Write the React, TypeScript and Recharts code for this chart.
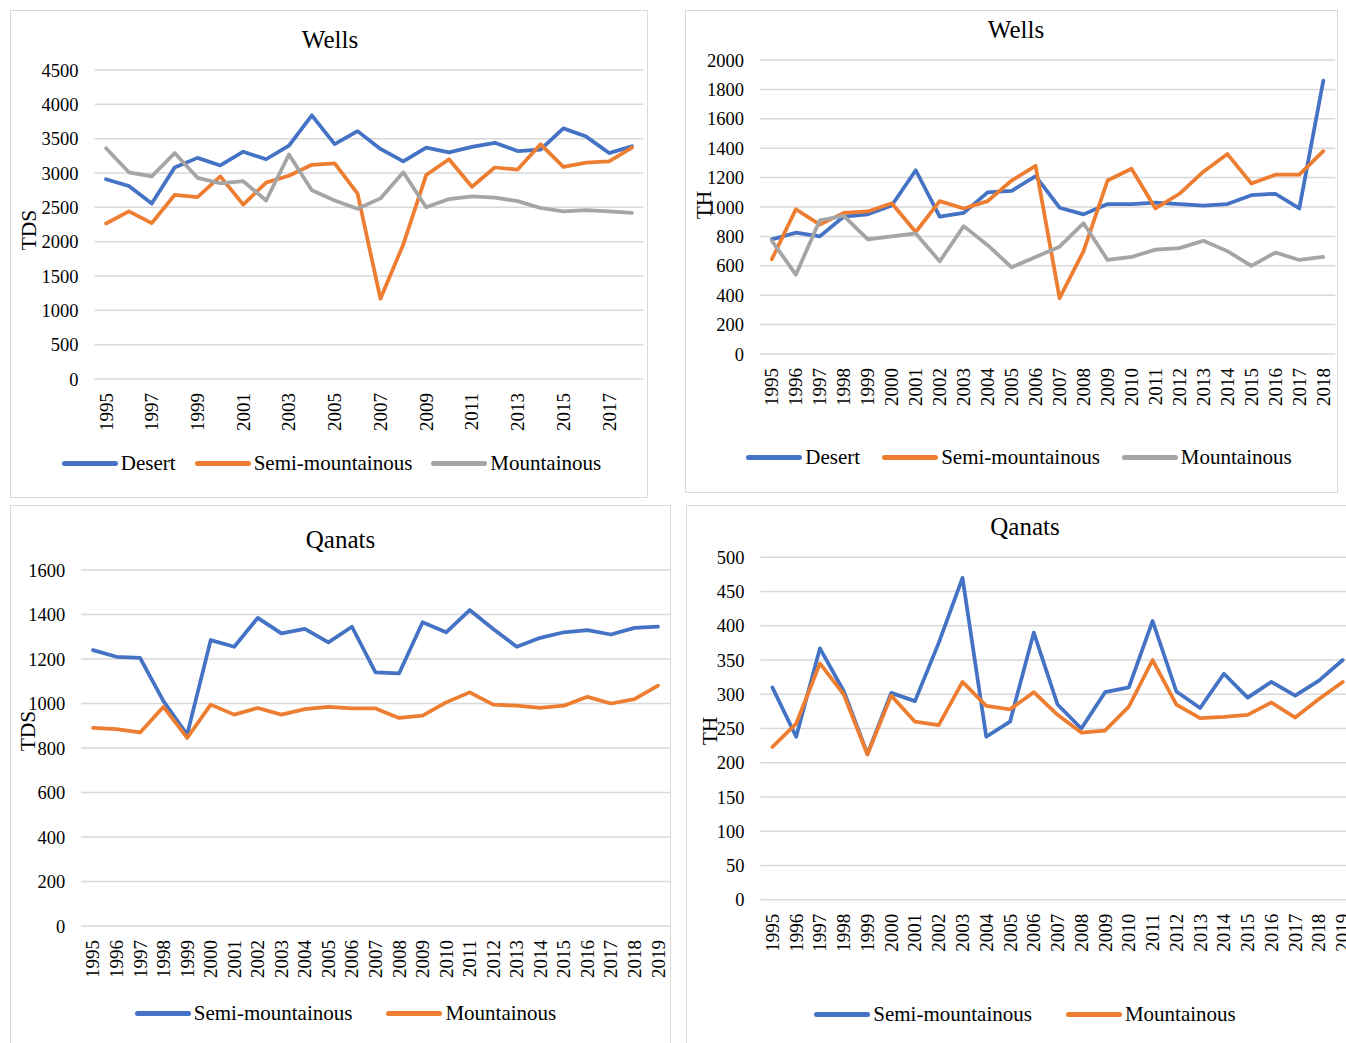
import React from 'react';
import { LineChart, Line, XAxis, YAxis, CartesianGrid, Legend } from 'recharts';

const FONT = '"Liberation Serif", "Times New Roman", serif';
const BLUE = '#4472C4';
const ORANGE = '#ED7D31';
const GRAY = '#A5A5A5';

// categories
const wellYears = ['1995', '1996', '1997', '1998', '1999', '2000', '2001', '2002', '2003', '2004', '2005', '2006',
  '2007', '2008', '2009', '2010', '2011', '2012', '2013', '2014', '2015', '2016', '2017', '2018'];
const qanatYears = ['1995', '1996', '1997', '1998', '1999', '2000', '2001', '2002', '2003', '2004', '2005', '2006',
  '2007', '2008', '2009', '2010', '2011', '2012', '2013', '2014', '2015', '2016', '2017', '2018', '2019'];

// Wells - TDS
const wellTdsDesert = [2910, 2810, 2555, 3080, 3220, 3110, 3310, 3200, 3400, 3840, 3420, 3610,
  3350, 3170, 3370, 3300, 3380, 3440, 3320, 3340, 3650, 3530, 3290, 3390];
const wellTdsSemi = [2265, 2440, 2270, 2680, 2650, 2950, 2540, 2860, 2960, 3120, 3140, 2700,
  1170, 1960, 2970, 3200, 2800, 3080, 3050, 3420, 3090, 3150, 3170, 3370];
const wellTdsMount = [3360, 3010, 2950, 3290, 2930, 2850, 2880, 2600, 3270, 2750, 2600, 2480,
  2630, 3010, 2500, 2620, 2660, 2640, 2590, 2490, 2440, 2460, 2440, 2420];

// Wells - TH
const wellThDesert = [780, 825, 800, 935, 950, 1010, 1250, 935, 960, 1100, 1110, 1210,
  995, 950, 1020, 1020, 1030, 1020, 1010, 1020, 1080, 1090, 990, 1860];
const wellThSemi = [645, 985, 880, 960, 970, 1025, 830, 1040, 990, 1040, 1180, 1280,
  380, 700, 1180, 1260, 990, 1090, 1240, 1360, 1160, 1220, 1220, 1380];
const wellThMount = [770, 540, 910, 940, 780, 800, 820, 630, 870, 740, 590, 660,
  730, 890, 640, 660, 710, 720, 770, 700, 600, 690, 640, 660];

// Qanats - TDS
const qanatTdsSemi = [1240, 1210, 1205, 1010, 860, 1285, 1255, 1385, 1315, 1335, 1275, 1345,
  1140, 1135, 1365, 1320, 1420, 1335, 1255, 1295, 1320, 1330, 1310, 1340, 1345];
const qanatTdsMount = [890, 885, 870, 985, 845, 995, 950, 980, 950, 975, 985, 978,
  978, 935, 945, 1005, 1050, 995, 990, 980, 990, 1030, 1000, 1020, 1080];

// Qanats - TH
const qanatThSemi = [310, 238, 367, 305, 213, 302, 290, 375, 470, 238, 260, 390,
  285, 250, 303, 310, 407, 304, 280, 330, 295, 318, 298, 320, 350];
const qanatThMount = [223, 257, 345, 300, 212, 298, 260, 255, 318, 283, 278, 303,
  270, 244, 247, 282, 350, 285, 265, 267, 270, 288, 266, 293, 318];

// y tick labels
const wellTdsTicks = [0, 500, 1000, 1500, 2000, 2500, 3000, 3500, 4000, 4500];
const wellThTicks = [0, 200, 400, 600, 800, 1000, 1200, 1400, 1600, 1800, 2000];
const qanatTdsTicks = [0, 200, 400, 600, 800, 1000, 1200, 1400, 1600];
const qanatThTicks = [0, 50, 100, 150, 200, 250, 300, 350, 400, 450, 500];

type Series = { name: string; values: number[]; color: string };
type Box = { left: number; top: number; width: number; height: number };
type Plot = { left: number; top: number; right: number; bottom: number };

interface PanelProps {
  title: string;
  yTitle: string;
  years: string[];
  series: Series[];
  yTicks: number[];
  box: Box;
  plot: Plot;
  titleAt: [number, number];
  yTitleAt: [number, number];
  legendAt: [number, number];
  legendGap: number;
  xInterval: number;
}

const YearTick = (props: any) => {
  const { x, y, payload } = props;
  return (
    <text
      x={x}
      y={y}
      transform={`rotate(-90 ${x} ${y})`}
      textAnchor="end"
      dominantBaseline="central"
      fontSize={19}
      fontFamily={FONT}
      fill="#000"
    >
      {payload.value}
    </text>
  );
};

const RotatedTitle = (props: any) => {
  const { tx, ty, caption } = props;
  return (
    <text
      x={tx}
      y={ty}
      transform={`rotate(-90 ${tx} ${ty})`}
      textAnchor="middle"
      dominantBaseline="central"
      fontSize={21.5}
      fontFamily={FONT}
      fill="#000"
    >
      {caption}
    </text>
  );
};

// legend keeps the series order (recharts sorts by name otherwise)
const makeLegend = (gap: number, order: string[]) => (props: any) => {
  const items = [...(props.payload || [])].sort(
    (a: any, b: any) => order.indexOf(a.value) - order.indexOf(b.value)
  );
  return (
    <div style={{ display: 'flex', justifyContent: 'center', alignItems: 'center', height: 30, gap }}>
      {items.map((it: any) => (
        <div key={it.value} style={{ display: 'flex', alignItems: 'center' }}>
          <span style={{ display: 'inline-block', width: 56, height: 5, borderRadius: 3, background: it.color }} />
          <span style={{ marginLeft: 3, fontSize: 21, fontFamily: FONT, color: '#000', lineHeight: '30px' }}>
            {it.value}
          </span>
        </div>
      ))}
    </div>
  );
};

function Panel(p: PanelProps) {
  const { box, plot } = p;
  const data = p.years.map((year, i) => {
    const row: Record<string, string | number> = { year };
    p.series.forEach((s) => {
      row[s.name] = s.values[i];
    });
    return row;
  });
  const band = (plot.right - plot.left) / p.years.length;
  const xAxisHeight = 70;
  const yAxisWidth = plot.left - box.left;
  const margin = {
    top: plot.top - box.top,
    right: box.left + box.width - plot.right,
    left: 0,
    bottom: box.top + box.height - plot.bottom - xAxisHeight,
  };
  const legendW = 640;
  const order = p.series.map((s) => s.name);

  return (
    <div style={{ position: 'absolute', left: box.left, top: box.top, width: box.width, height: box.height }}>
      <LineChart width={box.width} height={box.height} data={data} margin={margin}>
        <CartesianGrid vertical={false} stroke="#d9d9d9" strokeWidth={1.5} />
        <XAxis
          dataKey="year"
          height={xAxisHeight}
          interval={p.xInterval}
          padding={{ left: band / 2, right: band / 2 }}
          axisLine={false}
          tickLine={false}
          tickSize={0}
          tickMargin={14}
          tick={<YearTick />}
        />
        <YAxis
          width={yAxisWidth}
          domain={[0, p.yTicks[p.yTicks.length - 1]]}
          ticks={p.yTicks}
          interval={0}
          axisLine={false}
          tickLine={false}
          tickSize={0}
          tickMargin={16}
          tick={{ fontSize: 18.5, fill: '#000', fontFamily: FONT }}
          label={<RotatedTitle tx={p.yTitleAt[0] - box.left} ty={p.yTitleAt[1] - box.top} caption={p.yTitle} />}
        />
        <Legend
          layout="horizontal"
          verticalAlign="middle"
          align="center"
          content={makeLegend(p.legendGap, order)}
          wrapperStyle={{
            top: p.legendAt[1] - box.top - 15,
            left: p.legendAt[0] - box.left - legendW / 2,
            width: legendW,
            height: 30,
          }}
        />
        {p.series.map((s) => (
          <Line
            key={s.name}
            type="linear"
            dataKey={s.name}
            name={s.name}
            stroke={s.color}
            strokeWidth={3.75}
            strokeLinejoin="round"
            strokeLinecap="round"
            dot={false}
            activeDot={false}
            isAnimationActive={false}
          />
        ))}
      </LineChart>
      <div
        style={{
          position: 'absolute',
          left: p.titleAt[0] - box.left - 150,
          top: p.titleAt[1] - box.top - 15,
          width: 300,
          lineHeight: '30px',
          fontSize: 25,
          fontFamily: FONT,
          textAlign: 'center',
          color: '#000',
        }}
      >
        {p.title}
      </div>
      <div
        style={{
          position: 'absolute',
          left: 0,
          top: 0,
          width: box.width,
          height: box.height,
          border: '1px solid #d9d9d9',
          boxSizing: 'border-box',
          pointerEvents: 'none',
        }}
      />
    </div>
  );
}

export default function App() {
  return (
    <div
      style={{
        position: 'absolute',
        left: 0,
        top: 0,
        width: 1346,
        height: 1043,
        overflow: 'hidden',
        background: '#fff',
        fontFamily: FONT,
      }}
    >
      <Panel
        title="Wells"
        yTitle="TDS"
        years={wellYears}
        series={[
          { name: 'Desert', values: wellTdsDesert, color: BLUE },
          { name: 'Semi-mountainous', values: wellTdsSemi, color: ORANGE },
          { name: 'Mountainous', values: wellTdsMount, color: GRAY },
        ]}
        yTicks={wellTdsTicks}
        box={{ left: 10, top: 10, width: 638, height: 488 }}
        plot={{ left: 94.6, top: 70, right: 643.4, bottom: 379 }}
        titleAt={[330, 40]}
        yTitleAt={[29, 230]}
        legendAt={[331.5, 463]}
        legendGap={19}
        xInterval={1}
      />
      <Panel
        title="Wells"
        yTitle="TH"
        years={wellYears}
        series={[
          { name: 'Desert', values: wellThDesert, color: BLUE },
          { name: 'Semi-mountainous', values: wellThSemi, color: ORANGE },
          { name: 'Mountainous', values: wellThMount, color: GRAY },
        ]}
        yTicks={wellThTicks}
        box={{ left: 685, top: 10, width: 653, height: 483 }}
        plot={{ left: 759.9, top: 60, right: 1335.3, bottom: 354 }}
        titleAt={[1016, 30]}
        yTitleAt={[703.5, 205]}
        legendAt={[1019, 457]}
        legendGap={22}
        xInterval={0}
      />
      <Panel
        title="Qanats"
        yTitle="TDS"
        years={qanatYears}
        series={[
          { name: 'Semi-mountainous', values: qanatTdsSemi, color: BLUE },
          { name: 'Mountainous', values: qanatTdsMount, color: ORANGE },
        ]}
        yTicks={qanatTdsTicks}
        box={{ left: 10, top: 505, width: 661, height: 560 }}
        plot={{ left: 81.2, top: 570, right: 669.8, bottom: 926 }}
        titleAt={[340.5, 540]}
        yTitleAt={[28, 731]}
        legendAt={[345.5, 1013]}
        legendGap={34}
        xInterval={0}
      />
      <Panel
        title="Qanats"
        yTitle="TH"
        years={qanatYears}
        series={[
          { name: 'Semi-mountainous', values: qanatThSemi, color: BLUE },
          { name: 'Mountainous', values: qanatThMount, color: ORANGE },
        ]}
        yTicks={qanatThTicks}
        box={{ left: 686, top: 505, width: 680, height: 560 }}
        plot={{ left: 760.5, top: 557.3, right: 1354.6, bottom: 899.7 }}
        titleAt={[1025, 527]}
        yTitleAt={[710, 731]}
        legendAt={[1025, 1014]}
        legendGap={34}
        xInterval={0}
      />
    </div>
  );
}
